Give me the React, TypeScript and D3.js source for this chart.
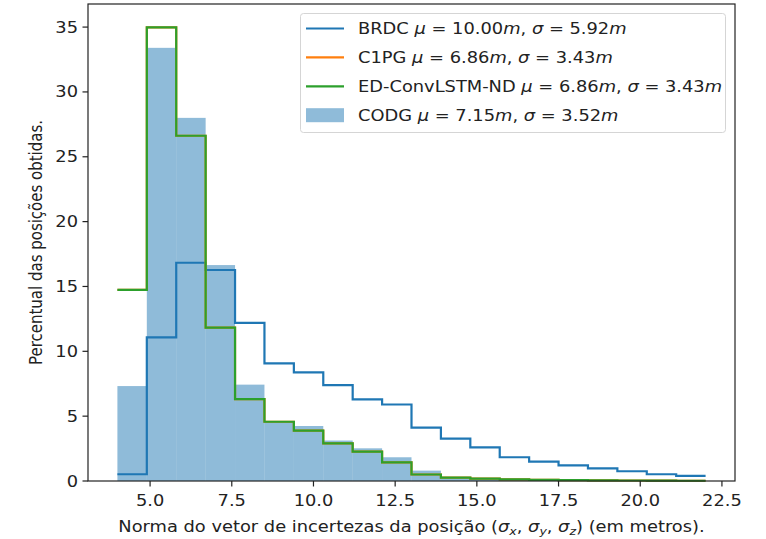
import React, { useEffect, useRef } from "react";
import * as d3 from "d3";

// histogram bin edges (metros)
const binEdges = [4.0, 4.9, 5.8, 6.7, 7.6, 8.5, 9.4, 10.3, 11.2, 12.1, 13.0, 13.9, 14.8, 15.7, 16.6, 17.5, 18.4, 19.3, 20.2, 21.1, 22.0];

// percent per bin
const brdc = [0.52, 11.08, 16.83, 16.27, 12.2, 9.07, 8.38, 7.4, 6.3, 5.9, 4.11, 3.26, 2.6, 1.83, 1.49, 1.21, 0.98, 0.75, 0.52, 0.39];
const c1pg = [14.73, 34.98, 26.62, 11.82, 6.32, 4.57, 3.88, 2.9, 2.26, 1.44, 0.5, 0.26, 0.18, 0.12, 0.08, 0.06, 0.05, 0.04, 0.03, 0.02];
const edConv = [14.73, 34.98, 26.62, 11.82, 6.32, 4.57, 3.88, 2.9, 2.26, 1.44, 0.5, 0.26, 0.18, 0.12, 0.08, 0.06, 0.05, 0.04, 0.03, 0.02];
const codg = [7.32, 33.4, 28.0, 16.65, 7.43, 4.6, 4.24, 3.12, 2.52, 1.83, 0.8, 0.22, 0.14, 0.09, 0.06, 0.04, 0.03, 0.02, 0.02, 0.01];

const xTicks = [5, 7.5, 10, 12.5, 15, 17.5, 20, 22.5];
const yTicks = [0, 5, 10, 15, 20, 25, 30, 35];

const legendItems = [
  { name: "BRDC", mu: "10.00", sigma: "5.92", color: "#1f77b4", kind: "line" },
  { name: "C1PG", mu: "6.86", sigma: "3.43", color: "#ff7f0e", kind: "line" },
  { name: "ED-ConvLSTM-ND", mu: "6.86", sigma: "3.43", color: "#2ca02c", kind: "line" },
  { name: "CODG", mu: "7.15", sigma: "3.52", color: "#1f77b4", kind: "patch" },
];

export default function App() {
  const ref = useRef<SVGSVGElement>(null);

  useEffect(() => {
    const width = 766;
    const height = 539;
    const left = 88, right = 735, top = 4, bottom = 481;
    const font = "'DejaVu Sans', sans-serif";
    const sx = 1.19; // the picture is a bit wider than tall

    const svg = d3.select(ref.current);
    svg.selectAll("*").remove();

    const x = d3.scaleLinear().domain([3.1, 22.9]).range([left, right]);
    const y = d3.scaleLinear().domain([0, 36.78]).range([bottom, top]);

    svg.append("rect").attr("width", width).attr("height", height).attr("fill", "white");

    // CODG bars
    svg
      .append("g")
      .selectAll("rect")
      .data(codg)
      .join("rect")
      .attr("x", (d, i) => x(binEdges[i]))
      .attr("width", (d, i) => x(binEdges[i + 1]) - x(binEdges[i]))
      .attr("y", (d) => y(d))
      .attr("height", (d) => y(0) - y(d))
      .attr("fill", "#1f77b4")
      .attr("fill-opacity", 0.5);

    // step lines
    const stepPath = (vals: number[]) => {
      let p = `M${x(binEdges[0])},${y(vals[0])}`;
      vals.forEach((v, i) => {
        if (i > 0) p += `V${y(v)}`;
        p += `H${x(binEdges[i + 1])}`;
      });
      return p;
    };
    [
      [brdc, "#1f77b4"],
      [c1pg, "#ff7f0e"],
      [edConv, "#2ca02c"],
    ].forEach(([vals, color]) => {
      svg
        .append("path")
        .attr("d", stepPath(vals as number[]))
        .attr("fill", "none")
        .attr("stroke", color as string)
        .attr("stroke-width", 2.2)
        .attr("stroke-linejoin", "miter");
    });

    // axes frame
    svg
      .append("rect")
      .attr("x", left)
      .attr("y", top)
      .attr("width", right - left)
      .attr("height", bottom - top)
      .attr("fill", "none")
      .attr("stroke", "#222")
      .attr("stroke-width", 1.2);

    const addText = (px: number, py: number, anchor: string) =>
      svg
        .append("text")
        .attr("transform", `translate(${px},${py}) scale(${sx},1)`)
        .attr("text-anchor", anchor)
        .attr("font-family", font)
        .attr("font-size", 15)
        .attr("fill", "#222");

    // x ticks
    xTicks.forEach((t) => {
      svg.append("line")
        .attr("x1", x(t)).attr("x2", x(t))
        .attr("y1", bottom).attr("y2", bottom + 5.5)
        .attr("stroke", "#222").attr("stroke-width", 1.2);
      addText(x(t), bottom + 25, "middle").text(d3.format(".1f")(t));
    });

    // y ticks
    yTicks.forEach((t) => {
      svg.append("line")
        .attr("x1", left - 5.5).attr("x2", left)
        .attr("y1", y(t)).attr("y2", y(t))
        .attr("stroke", "#222").attr("stroke-width", 1.2);
      addText(left - 10, y(t) + 5.5, "end").text(t);
    });

    // y label
    svg
      .append("text")
      .attr("transform", `translate(42,${(top + bottom) / 2}) scale(${sx},1) rotate(-90)`)
      .attr("text-anchor", "middle")
      .attr("font-family", font)
      .attr("font-size", 15)
      .attr("fill", "#222")
      .text("Percentual das posições obtidas.");

    // x label with subscripts
    const xl = addText((left + right) / 2, 532, "middle");
    xl.append("tspan").text("Norma do vetor de incertezas da posição (");
    ["x", "y", "z"].forEach((s, i) => {
      xl.append("tspan").attr("font-style", "italic").text("σ");
      xl.append("tspan").attr("font-style", "italic").attr("font-size", 10.5).attr("dy", 3).text(s);
      xl.append("tspan").attr("dy", -3).text(i < 2 ? ", " : ")");
    });
    xl.append("tspan").text(" (em metros).");

    // legend
    const lg = svg.append("g");
    lg.append("rect")
      .attr("x", 300.5)
      .attr("y", 13.5)
      .attr("width", 425)
      .attr("height", 119)
      .attr("rx", 3)
      .attr("fill", "white")
      .attr("fill-opacity", 0.8)
      .attr("stroke", "#d5d5d5")
      .attr("stroke-width", 1);

    legendItems.forEach((it, i) => {
      const cy = 28.5 + i * 28.9;
      if (it.kind === "line") {
        lg.append("line")
          .attr("x1", 306).attr("x2", 344)
          .attr("y1", cy).attr("y2", cy)
          .attr("stroke", it.color)
          .attr("stroke-width", 2.2);
      } else {
        lg.append("rect")
          .attr("x", 306).attr("y", cy - 7)
          .attr("width", 38).attr("height", 14)
          .attr("fill", it.color)
          .attr("fill-opacity", 0.5);
      }
      const tx = addText(358, cy + 5.5, "start");
      tx.append("tspan").text(it.name + " ");
      tx.append("tspan").attr("font-style", "italic").text("μ");
      tx.append("tspan").text(" = " + it.mu);
      tx.append("tspan").attr("font-style", "italic").text("m");
      tx.append("tspan").text(", ");
      tx.append("tspan").attr("font-style", "italic").text("σ");
      tx.append("tspan").text(" = " + it.sigma);
      tx.append("tspan").attr("font-style", "italic").text("m");
    });
  }, []);

  return (
    <svg
      ref={ref}
      width={766}
      height={539}
      style={{ position: "absolute", left: 0, top: 0, display: "block" }}
    />
  );
}
